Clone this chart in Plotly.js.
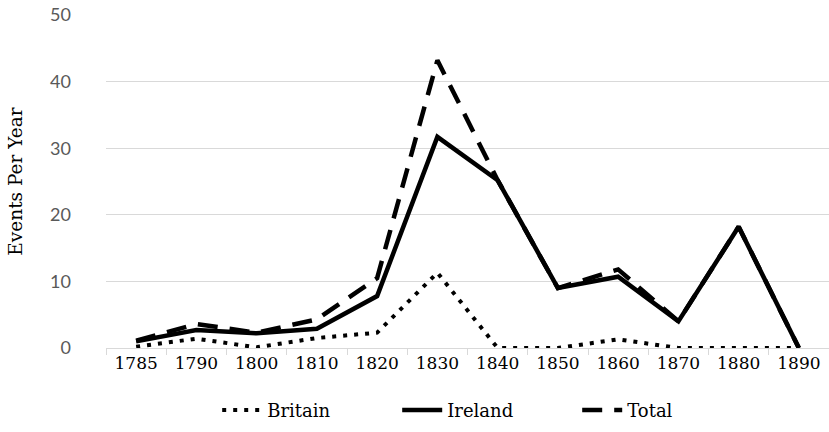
<!DOCTYPE html>
<html>
<head>
<meta charset="utf-8">
<script src="https://cdn.plot.ly/plotly-3.0.1.min.js"></script>
<style>html,body{margin:0;padding:0;background:#fff;}#chart{width:829px;height:432px;}</style>
</head>
<body>
<div id="chart"></div>
<script>
const years = ["1785","1790","1800","1810","1820","1830","1840","1850","1860","1870","1880","1890"];
const britain = [0.2, 1.4, 0.1, 1.5, 2.3, 11.3, 0, 0, 1.3, 0, 0, 0];
const ireland = [1.0, 2.7, 2.2, 2.9, 7.8, 31.7, 25.2, 9.0, 10.7, 4.0, 18.2, 0];
const total = [1.1, 3.6, 2.3, 4.3, 10.5, 43.2, 25.2, 9.0, 11.8, 4.0, 18.2, 0];
const yTicks = [0, 10, 20, 30, 40, 50];

const serif = "DejaVu Serif, serif";
const traces = [
  {x: years, y: britain, name: "Britain", type: "scatter", mode: "lines",
   line: {color: "#000", width: 4, dash: "4px,7px"}},
  {x: years, y: ireland, name: "Ireland", type: "scatter", mode: "lines",
   line: {color: "#000", width: 4.5}},
  {x: years, y: total, name: "Total", type: "scatter", mode: "lines",
   line: {color: "#000", width: 4.5, dash: "20px,12px"}}
];
const layout = {
  width: 829, height: 432,
  margin: {l: 106, r: 0, t: 15, b: 84},
  paper_bgcolor: "#fff", plot_bgcolor: "#fff",
  showlegend: true,
  legend: {orientation: "h", xref: "container", yref: "container", x: 0.262, xanchor: "left",
           y: 0.05, yanchor: "middle", font: {family: serif, size: 18, color: "#000"},
           itemwidth: 40, entrywidth: 125, entrywidthmode: "pixels", tracegroupgap: 0},
  xaxis: {type: "category", range: [-0.5, 11.5], showgrid: false,
          showline: true, linecolor: "#d9d9d9", linewidth: 1,
          ticks: "outside", tickson: "boundaries", ticklen: 6, tickcolor: "#d9d9d9",
          tickfont: {family: serif, size: 17, color: "#000"}, fixedrange: true},
  yaxis: {range: [0, 50], tickvals: yTicks, ticktext: yTicks.map(String),
          showgrid: true, gridcolor: "#d9d9d9", gridwidth: 1, zeroline: false,
          showline: false, ticks: "", ticklabelstandoff: 34,
          tickfont: {family: "Lato, Carlito, sans-serif", size: 18, color: "#595959"},
          title: {text: "Events Per Year", font: {family: serif, size: 18.5, color: "#000"}, standoff: 22}}
};
Plotly.newPlot("chart", traces, layout, {staticPlot: true, displayModeBar: false});
</script>
</body>
</html>
